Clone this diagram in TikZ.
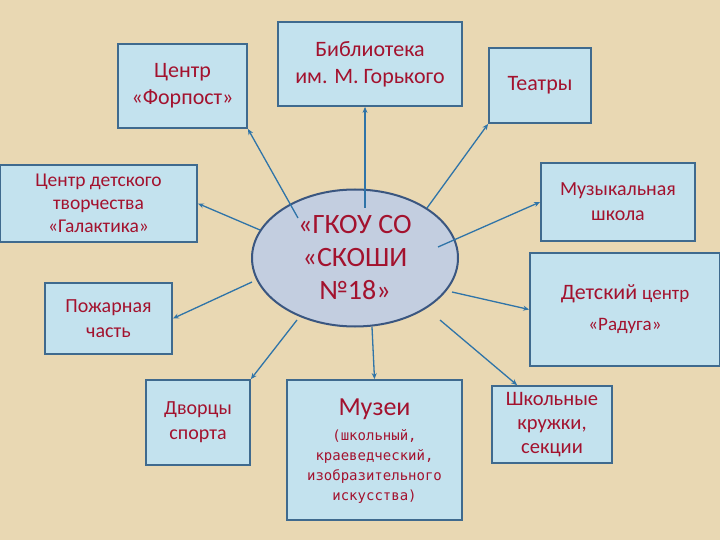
\documentclass[tikz,border=0pt]{standalone}
\usepackage{fontspec}
\setmainfont{Carlito}
\newfontfamily\monof{DejaVu Sans Mono}
\usetikzlibrary{arrows.meta,shapes.geometric}
\definecolor{bg}{HTML}{E9D8B3}
\definecolor{bfill}{HTML}{C3E2EE}
\definecolor{bdraw}{HTML}{3F6A8E}
\definecolor{efill}{HTML}{C3CEE0}
\definecolor{edraw}{HTML}{3A5680}
\definecolor{txt}{HTML}{A3122E}
\definecolor{ln}{HTML}{2F74A8}
\begin{document}
\begin{tikzpicture}[x=1pt,y=-1pt,
 bx/.style={draw=bdraw,line width=1.8pt,fill=bfill,text=txt,align=center,font=\fontsize{22}{27}\selectfont,inner sep=0pt},
 ar/.style={draw=ln,line width=1.3pt,-{Stealth[length=6pt,width=5pt]}}]
\fill[bg] (0,0) rectangle (720,540);
\useasboundingbox (0,0) rectangle (720,540);
\node[bx,minimum width=129,minimum height=84] (f) at (182.5,86) {Центр\\«Форпост»};
\node[bx,minimum width=184,minimum height=84] (b) at (370,64) {Библиотека\\им. М. Горького};
\node[bx,minimum width=102,minimum height=75] (t) at (540,85.5) {Театры};
\node[bx,minimum width=197,minimum height=77,font=\fontsize{19.5}{23}\selectfont] (c) at (98.5,203.5) {Центр детского\\творчества\\«Галактика»};
\node[bx,minimum width=154,minimum height=78,font=\fontsize{20}{25}\selectfont] (m) at (618,202) {Музыкальная\\школа};
\node[bx,minimum width=127,minimum height=71,font=\fontsize{20}{25}\selectfont] (p) at (108.5,318.5) {Пожарная\\часть};
\node[bx,minimum width=190,minimum height=113] (r) at (625,309.5) {Детский {\fontsize{19}{24}\selectfont центр}\\[4pt]{\fontsize{19}{24}\selectfont«Радуга»}};
\node[bx,minimum width=104,minimum height=85,font=\fontsize{20}{25}\selectfont] (d) at (198,422.5) {Дворцы\\спорта};
\node[bx,minimum width=175,minimum height=140,align=center] (mu) at (374.5,450) {};
\node[text=txt,align=center,font=\fontsize{26}{30}\selectfont] at (374.5,409) {Музеи};
\node[text=txt,align=center,font=\monof\fontsize{14}{20}\selectfont] at (374.5,466) {(школьный,\\краеведческий,\\изобразительного\\искусства)};
\node[bx,minimum width=120,minimum height=77,font=\fontsize{20.5}{24}\selectfont] (s) at (552,424.5) {Школьные\\кружки,\\секции};
\node[draw=edraw,line width=2pt,fill=efill,ellipse,minimum width=206,minimum height=137,inner sep=0pt,text=txt,align=center,font=\fontsize{28}{33}\selectfont] (e) at (355,258) {«ГКОУ СО\\«СКОШИ\\№18»};
\coordinate (sf) at (298,218);
\coordinate (sb) at (365,208);
\coordinate (st) at (427,208);
\coordinate (sc) at (260,230);
\coordinate (sm) at (438,247);
\coordinate (sp) at (252,282);
\coordinate (sr) at (452,292);
\coordinate (sd) at (297,320);
\coordinate (smu) at (372,327);
\coordinate (ss) at (440,320);
\draw[ar] (sf) -- (f.south east);
\draw[ar] (sb) -- (b.south -| sb);
\draw[ar] (st) -- (t.south west);
\draw[ar] (sc) -- (c.east);
\draw[ar] (sm) -- (m.west);
\draw[ar] (sp) -- (p.east);
\draw[ar] (sr) -- (r.west);
\draw[ar] (sd) -- (d.north east);
\draw[ar] (smu) -- (mu.north);
\draw[ar] (ss) -- ([xshift=26pt]s.north west);
\end{tikzpicture}
\end{document}
